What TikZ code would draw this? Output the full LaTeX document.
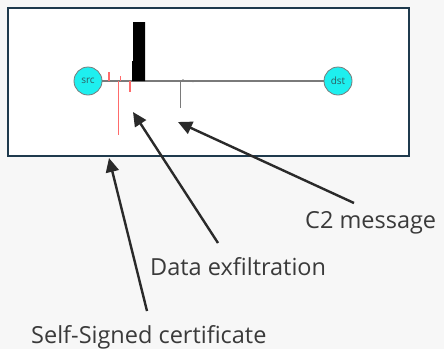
\documentclass[tikz,border=0pt]{standalone}
\usepackage{fontspec}
\setmainfont{Open Sans}
\usetikzlibrary{arrows.meta}
\definecolor{bgc}{HTML}{F7F7F7}
\definecolor{framec}{HTML}{1F3A4D}
\definecolor{arrc}{HTML}{2A2A2A}
\definecolor{txtc}{HTML}{3A3A3A}
\definecolor{redc}{HTML}{FF6B6B}
\definecolor{linec}{HTML}{7A7A7A}
\definecolor{hostc}{HTML}{1EEFEF}
\definecolor{hosttxt}{HTML}{2F5F63}
\tikzset{
  host/.style={circle, draw=linec, line width=0.8pt, fill=hostc, minimum size=28pt, inner sep=0pt, font=\fontsize{10}{11}\selectfont, text=hosttxt},
  label/.style={text=txtc, font=\fontsize{23.5}{26}\selectfont, inner sep=0pt},
  pointer/.style={draw=arrc, line width=2.4pt, -{Triangle[length=14pt,width=13pt]}, shorten >=0pt},
  redtick/.style={draw=redc, line width=1.2pt},
  graytick/.style={draw=linec, line width=1.3pt}
}
\begin{document}
\begin{tikzpicture}[x=1pt,y=-1pt]
\useasboundingbox[fill=bgc] (0,0) rectangle (444,349);
\node[draw=framec, line width=1.8pt, fill=white, minimum width=401pt, minimum height=148pt, inner sep=0pt, anchor=north west] (frame) at (7,7) {};
\node[host] (src) at (88,81) {src};
\node[host] (dst) at (338,81) {dst};
\draw[linec, line width=1.3pt] (src) -- (dst);
% black bar
\fill[black] (132,81) -- (132,61) -- (133,61) -- (133,22) -- (145,22) -- (145,81) -- cycle;
% red ticks
\draw[redtick] (109,72) -- (109,81);
\draw[redtick] (120.5,76) -- (120.5,81);
\draw[redtick] (118.3,81) -- (118.3,135);
\draw[redtick] (130,81) -- (130,92);
% gray tick and dots
\draw[graytick] (180.7,81) -- (180.7,108);
\fill[linec] (183,80) circle (0.9);
\fill[linec] (193,81.5) circle (0.9);
% labels
\node[label, anchor=west] (c2) at (305,223) {C2 message};
\node[label, anchor=west] (dx) at (150,267) {Data exfiltration};
\node[label, anchor=west] (ss) at (31,337) {Self-Signed certificate};
\coordinate (c2tip) at (178,122);
\coordinate (dxtip) at (133,112);
\coordinate (sstip) at (109,158);
\coordinate (c2tail) at (354,203);
\coordinate (dxtail) at (218,243);
\coordinate (sstail) at (147,311);
\draw[pointer] (c2tail) -- (c2tip);
\draw[pointer] (dxtail) -- (dxtip);
\draw[pointer] (sstail) -- (sstip);
\end{tikzpicture}
\end{document}
